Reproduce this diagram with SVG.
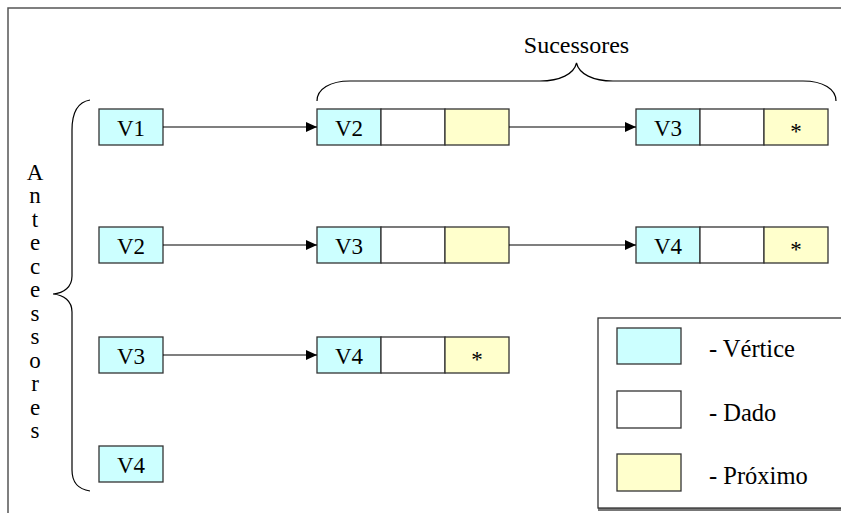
<svg xmlns="http://www.w3.org/2000/svg" width="841" height="513" viewBox="0 0 841 513">
  <style>
    .t { font-family: 'Liberation Serif', 'DejaVu Serif', 'Times New Roman', serif; font-size: 23px; fill: #000; }
    .mid { text-anchor: middle; }
    .cap { font-size: 24px; }
    .key { font-size: 24.5px; }
    .v { fill: #CCFFFF; stroke: #333; stroke-width: 1.3; }
    .d { fill: #FFFFFF; stroke: #333; stroke-width: 1.3; }
    .p { fill: #FFFFCC; stroke: #333; stroke-width: 1.3; }
    .star { font-size: 23px; }
    .link { fill: none; stroke: #000; stroke-width: 1.2; marker-end: url(#arrow); }
    .brace { fill: none; stroke: #000; stroke-width: 1.2; }
    .frame { fill: none; stroke: #555; stroke-width: 1.5; }
  </style>
  <defs>
    <marker id="arrow" viewBox="0 0 11 10" refX="11" refY="5" markerWidth="11" markerHeight="10" markerUnits="userSpaceOnUse" orient="auto">
      <path d="M0,0 L11,5 L0,10 Z" fill="#000"/>
    </marker>
  </defs>

  <rect width="841" height="513" fill="#fff"/>
  <!-- page frame (left and top edges) -->
  <path class="frame" d="M8,513 L8,8 L841,8"/>

  <g class="t">
  <!-- successor brace and caption -->
  <g id="sucessores">
    <text class="mid cap" x="576.5" y="53">Sucessores</text>
    <path class="brace" d="M317,101 C317,89 330,81 350,81 L540,81 C560,81 574,74 576.5,63 C579,74 593,81 613,81 L803,81 C823,81 836,89 836,101"/>
  </g>

  <!-- predecessor brace and vertical caption -->
  <g id="antecessores">
    <path class="brace" d="M90,100 C78,102 72,112 72,130 L72,276 C72,287 64,293 53,294 C64,295 72,301 72,312 L72,470 C72,483 78,489 90,491"/>
    <text class="mid" x="35" y="179.5">A</text>
    <text class="mid" x="35" y="203">n</text>
    <text class="mid" x="35" y="226.5">t</text>
    <text class="mid" x="35" y="250">e</text>
    <text class="mid" x="35" y="273.5">c</text>
    <text class="mid" x="35" y="297">e</text>
    <text class="mid" x="35" y="320.5">s</text>
    <text class="mid" x="35" y="344">s</text>
    <text class="mid" x="35" y="367.5">o</text>
    <text class="mid" x="35" y="391">r</text>
    <text class="mid" x="35" y="414.5">e</text>
    <text class="mid" x="35" y="438">s</text>
  </g>

  <!-- predecessor vertices -->
  <g id="a-v1"><rect class="v" x="99" y="109" width="64" height="36"/><text class="mid" x="131" y="135.5">V1</text></g>
  <g id="a-v2"><rect class="v" x="99" y="227" width="64" height="36"/><text class="mid" x="131" y="253.5">V2</text></g>
  <g id="a-v3"><rect class="v" x="99" y="337" width="64" height="36"/><text class="mid" x="131" y="363.5">V3</text></g>
  <g id="a-v4"><rect class="v" x="99" y="446" width="64" height="36"/><text class="mid" x="131" y="472.5">V4</text></g>

  <!-- successor list of V1 -->
  <g id="s1-v2">
    <rect class="v" x="317" y="109" width="64" height="36"/><rect class="d" x="381" y="109" width="64" height="36"/><rect class="p" x="445" y="109" width="64" height="36"/>
    <text class="mid" x="349" y="135.5">V2</text>
  </g>
  <g id="s1-v3">
    <rect class="v" x="636" y="109" width="64" height="36"/><rect class="d" x="700" y="109" width="64" height="36"/><rect class="p" x="764" y="109" width="64" height="36"/>
    <text class="mid" x="668" y="135.5">V3</text><text class="mid star" x="796" y="139">*</text>
  </g>

  <!-- successor list of V2 -->
  <g id="s2-v3">
    <rect class="v" x="317" y="227" width="64" height="36"/><rect class="d" x="381" y="227" width="64" height="36"/><rect class="p" x="445" y="227" width="64" height="36"/>
    <text class="mid" x="349" y="253.5">V3</text>
  </g>
  <g id="s2-v4">
    <rect class="v" x="636" y="227" width="64" height="36"/><rect class="d" x="700" y="227" width="64" height="36"/><rect class="p" x="764" y="227" width="64" height="36"/>
    <text class="mid" x="668" y="253.5">V4</text><text class="mid star" x="796" y="257">*</text>
  </g>

  <!-- successor list of V3 -->
  <g id="s3-v4">
    <rect class="v" x="317" y="337" width="64" height="36"/><rect class="d" x="381" y="337" width="64" height="36"/><rect class="p" x="445" y="337" width="64" height="36"/>
    <text class="mid" x="349" y="363.5">V4</text><text class="mid star" x="477" y="367">*</text>
  </g>

  <!-- links -->
  <g id="connectors">
    <line class="link" x1="163" y1="127" x2="317" y2="127"/>
    <line class="link" x1="509" y1="127" x2="636" y2="127"/>
    <line class="link" x1="163" y1="245" x2="317" y2="245"/>
    <line class="link" x1="509" y1="245" x2="636" y2="245"/>
    <line class="link" x1="163" y1="355" x2="317" y2="355"/>
  </g>

  <!-- legend -->
  <g id="legend">
    <rect x="598" y="321" width="260" height="190" fill="#777"/>
    <rect x="598" y="318" width="260" height="190" fill="#fff" stroke="#333" stroke-width="1.3"/>
    <rect class="v" x="617" y="328" width="64" height="36"/>
    <text class="key" x="709" y="357">- Vértice</text>
    <rect class="d" x="617" y="391" width="64" height="37"/>
    <text class="key" x="709" y="421">- Dado</text>
    <rect class="p" x="617" y="454" width="64" height="37"/>
    <text class="key" x="709" y="484">- Próximo</text>
  </g>
  </g>
</svg>
